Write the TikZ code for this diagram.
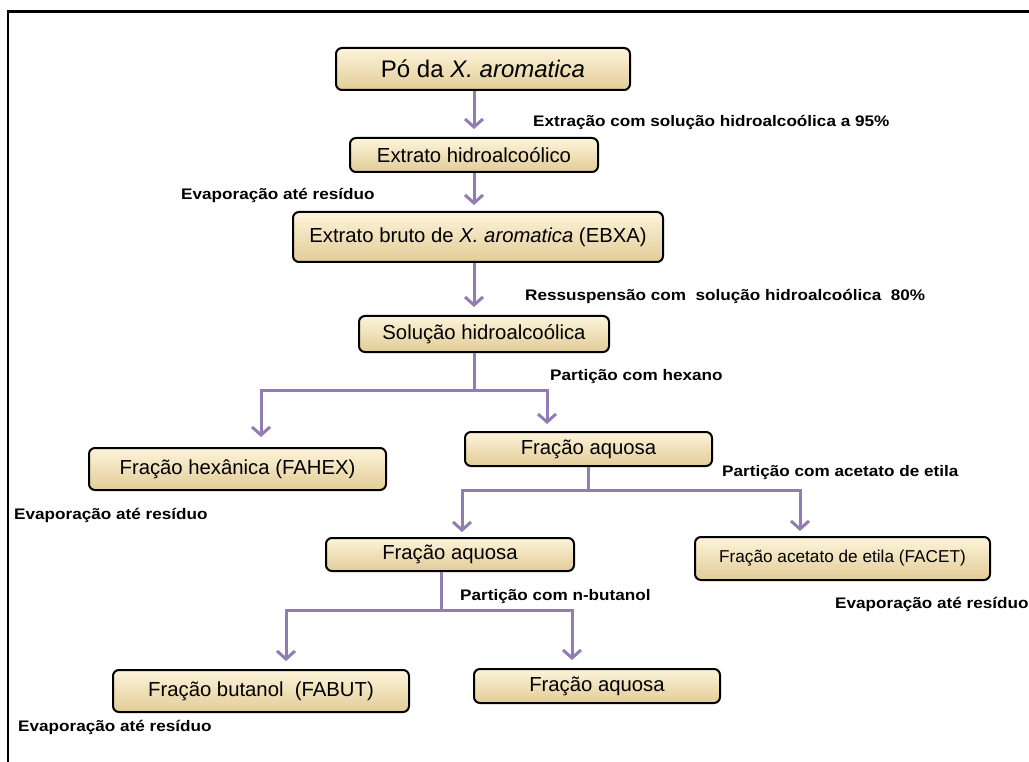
\documentclass[tikz,border=0pt]{standalone}
\usepackage{fontspec}
\setmainfont{Liberation Sans}
\newfontfamily\lblfont{Liberation Sans}[FakeStretch=1.12]
\usetikzlibrary{arrows.meta}
\definecolor{arr}{RGB}{145,124,180}
\definecolor{boxtop}{RGB}{253,244,218}
\definecolor{boxbot}{RGB}{226,204,152}
\tikzset{
  box/.style={draw=black, line width=2pt, rounded corners=6pt, top color=boxtop, bottom color=boxbot,
    inner sep=0pt, font=\fontsize{20.3}{24}\selectfont},
  lbl/.style={font=\lblfont\bfseries\fontsize{15.3}{18}\selectfont, inner sep=0pt, anchor=west},
  link/.style={draw=arr, line width=3pt},
  flow/.style={draw=arr, line width=3pt, -{Straight Barb[length=8pt,width=18pt]}},
  frame/.style={draw=black}
}
\begin{document}
\begin{tikzpicture}[x=1pt,y=-1pt]
\useasboundingbox (0,0) rectangle (1029,762);
% frame
\draw[frame, line width=3pt] (7,12) -- (1029,12);
\draw[frame, line width=2pt] (8,12) -- (8,762);

% boxes
\node[box, minimum width=294pt, minimum height=42pt, font=\fontsize{24}{28}\selectfont] (b1) at (483,69) {Pó da \textit{X. aromatica}};
\node[box, minimum width=248pt, minimum height=34pt] (b2) at (474,155) {Extrato hidroalcoólico};
\node[box, minimum width=370pt, minimum height=50pt] (b3) at (478,237) {Extrato bruto de \textit{X. aromatica} (EBXA)};
\node[box, minimum width=250pt, minimum height=36pt] (b4) at (484,334) {Solução hidroalcoólica};
\node[box, minimum width=297pt, minimum height=42pt] (b5) at (237.5,469) {Fração hexânica (FAHEX)};
\node[box, minimum width=247pt, minimum height=34pt] (b6) at (588.5,449) {Fração aquosa};
\node[box, minimum width=248pt, minimum height=33pt] (b7) at (450,554.5) {Fração aquosa};
\node[box, minimum width=295pt, minimum height=43pt, font=\fontsize{17.2}{21}\selectfont] (b8) at (842.5,558.5) {Fração acetato de etila (FACET)};
\node[box, minimum width=296pt, minimum height=42pt] (b9) at (261,691) {Fração butanol\ \ (FABUT)};
\node[box, minimum width=246pt, minimum height=34pt] (b10) at (597,686) {Fração aquosa};

% junctions
\coordinate (c) at (474,0);
\coordinate (j1) at (474,390);
\coordinate (j2) at (588.5,490);
\coordinate (j3) at (441,610);

% straight arrows
\draw[flow, shorten >=8pt] (b1.south -| b2.north) -- (b2.north);
\draw[flow, shorten >=6pt] (b2.south) -- (b2.south |- b3.north);
\draw[flow, shorten >=8pt] (b3.south -| c) -- (b4.north -| c);

% branch 1
\draw[link] (b4.south -| j1) -- (j1);
\draw[flow, shorten >=10pt] (j1) -| ([xshift=23.5pt]b5.north);
\draw[flow, shorten >=7pt] (j1) -| ([xshift=-41.5pt]b6.north);

% branch 2
\draw[link] (b6.south -| j2) -- (j2);
\draw[flow, shorten >=5pt] (j2) -| ([xshift=12pt]b7.north);
\draw[flow, shorten >=5pt] (j2) -| ([xshift=-42.5pt]b8.north);

% branch 3
\draw[link] (b7.south -| j3) -- (j3);
\draw[flow, shorten >=8pt] (j3) -| ([xshift=25pt]b9.north);
\draw[flow, shorten >=8pt] (j3) -| ([xshift=-25pt]b10.north);

% labels
\node[lbl] (l1) at (533,122) {Extração com solução hidroalcoólica a 95\%};
\node[lbl] (l2) at (181,195) {Evaporação até resíduo};
\node[lbl] (l3) at (525,296) {Ressuspensão com\ \ solução hidroalcoólica\ \ 80\%};
\node[lbl] (l4) at (550,377) {Partição com hexano};
\node[lbl] (l5) at (722,473) {Partição com acetato de etila};
\node[lbl] (l6) at (14,515) {Evaporação até resíduo};
\node[lbl] (l7) at (460,597) {Partição com n-butanol};
\node[lbl] (l8) at (835,604) {Evaporação até resíduo};
\node[lbl] (l9) at (18,727) {Evaporação até resíduo};
\end{tikzpicture}
\end{document}
